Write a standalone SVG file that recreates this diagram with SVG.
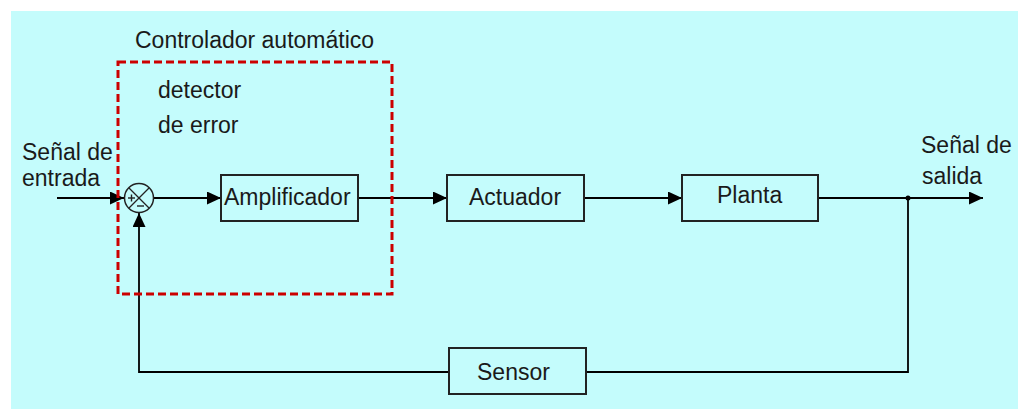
<svg xmlns="http://www.w3.org/2000/svg" width="1018" height="409" viewBox="0 0 1018 409">
<style>
.t{font-family:"Liberation Sans",Arial,sans-serif;font-size:23px;fill:#1a1a1a}
.box{fill:none;stroke:#222;stroke-width:2}
.ln{fill:none;stroke:#000;stroke-width:1.8}
</style>
<defs>
<marker id="arr" markerUnits="userSpaceOnUse" markerWidth="15" markerHeight="14" refX="14" refY="6.5" orient="auto">
<path d="M0,0 L14,6.5 L0,13 z" fill="#000"/>
</marker>
</defs>
<rect x="0" y="0" width="1018" height="409" fill="#fff"/>
<rect x="11" y="11" width="1007" height="398" fill="#c4fcfc"/>
<g id="connectors">
<line class="ln" x1="57" y1="198" x2="124" y2="198" marker-end="url(#arr)"/>
<line class="ln" x1="154" y1="198" x2="221" y2="198" marker-end="url(#arr)"/>
<line class="ln" x1="358" y1="198" x2="447" y2="198" marker-end="url(#arr)"/>
<line class="ln" x1="584" y1="198" x2="682" y2="198" marker-end="url(#arr)"/>
<line class="ln" x1="818" y1="198" x2="983" y2="198" marker-end="url(#arr)"/>
<polyline class="ln" points="908,198 908,372 586,372"/>
<polyline class="ln" points="449,372 139,372 139,213" marker-end="url(#arr)"/>
<circle cx="908" cy="198" r="2.5" fill="#000"/>
</g>
<g id="controlador">
<rect x="118" y="62" width="274" height="232" fill="none" stroke="#cc0000" stroke-width="3" stroke-dasharray="8 4"/>
<text class="t" x="135" y="48">Controlador automático</text>
</g>
<g id="detector">
<text class="t" x="158" y="98">detector</text>
<text class="t" x="158" y="133">de error</text>
<circle cx="139" cy="198" r="14.5" fill="none" stroke="#222" stroke-width="1.5"/>
<line x1="129" y1="188" x2="149" y2="208" stroke="#222" stroke-width="1.2"/>
<line x1="149" y1="188" x2="129" y2="208" stroke="#222" stroke-width="1.2"/>
<line x1="128" y1="198" x2="135" y2="198" stroke="#222" stroke-width="1.4"/>
<line x1="131.5" y1="194.5" x2="131.5" y2="201.5" stroke="#222" stroke-width="1.4"/>
<line x1="137" y1="206" x2="144" y2="206" stroke="#222" stroke-width="1.4"/>
</g>
<g id="entrada">
<text class="t" x="22" y="160">Señal de</text>
<text class="t" x="22" y="186">entrada</text>
</g>
<g id="amplificador">
<rect class="box" x="221" y="175" width="137" height="46"/>
<text class="t" x="224" y="205">Amplificador</text>
</g>
<g id="actuador">
<rect class="box" x="447" y="175" width="137" height="46"/>
<text class="t" x="469" y="205">Actuador</text>
</g>
<g id="planta">
<rect class="box" x="682" y="175" width="136" height="46"/>
<text class="t" x="717" y="203">Planta</text>
</g>
<g id="sensor">
<rect class="box" x="449" y="348" width="137" height="46"/>
<text class="t" x="477" y="380">Sensor</text>
</g>
<g id="salida">
<text class="t" x="921" y="153">Señal de</text>
<text class="t" x="922" y="184">salida</text>
</g>
</svg>
